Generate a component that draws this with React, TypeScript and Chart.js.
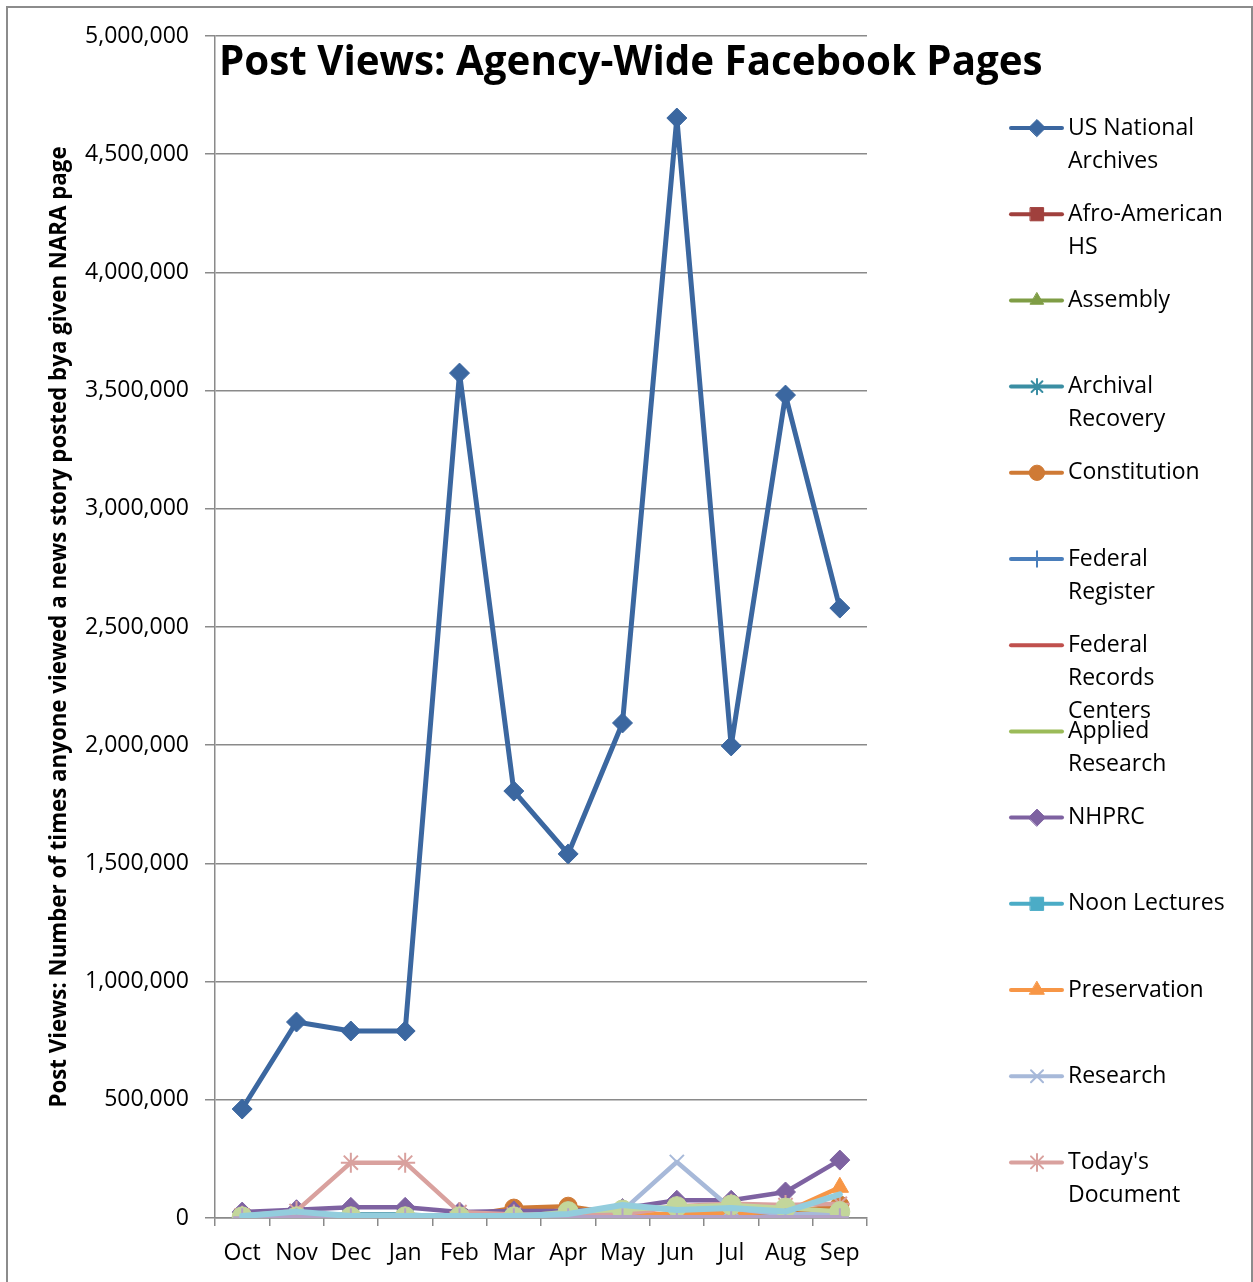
import React, { useEffect, useRef } from 'react';
import { Chart, registerables } from 'chart.js';
import { drawPoint } from 'chart.js/helpers';

Chart.register(...registerables);

// ---------- data ----------
const months = ['Oct', 'Nov', 'Dec', 'Jan', 'Feb', 'Mar', 'Apr', 'May', 'Jun', 'Jul', 'Aug', 'Sep'];

const usNationalArchives = [461000, 829000, 791000, 791000, 3574000, 1806000, 1540000, 2094000, 4653000, 1997000, 3481000, 2580000];
const afroAmericanHS = [5000, 8000, 6000, 6000, 5000, 6000, 8000, 6000, 5000, 8000, 6000, 20000];
const assembly = [2000, 2000, 2000, 2000, 2000, 2000, 2000, 2000, 2000, 2000, 2000, 2000];
const archivalRecovery = [4000, 6000, 15000, 15000, 4000, 4000, 4000, 4000, 3000, 3000, 3000, 3000];
const constitution = [5000, 8000, 6000, 6000, 5000, 42000, 50000, 15000, 10000, 15000, 20000, 55000];
const federalRegister = [3000, 4000, 3000, 3000, 3000, 3000, 3000, 5000, 8000, 30000, 8000, 10000];
const federalRecordsCenters = [1000, 1000, 1000, 1000, 1000, 1000, 1000, 1000, 1000, 1000, 1000, 1000];
const appliedResearch = [1000, 1000, 1000, 1000, 1000, 1000, 1000, 1000, 1000, 1000, 1000, 1000];
const nhprc = [25000, 35000, 45000, 45000, 25000, 30000, 30000, 40000, 75000, 75000, 110000, 245000];
const noonLectures = [0, 0, 0, 0, 0, 0, 0, 0, 0, 0, 0, 0];
const preservation = [5000, 10000, 5000, 5000, 5000, 10000, 10000, 10000, 20000, 20000, 25000, 130000];
const research = [5000, 10000, 5000, 5000, 5000, 5000, 5000, 30000, 237000, 40000, 15000, 20000];
const todaysDocument = [10000, 30000, 234000, 234000, 25000, 15000, 15000, 15000, 50000, 60000, 55000, 60000];
const extraCircles = [5000, 5000, 5000, 5000, 5000, 5000, 27000, 34000, 48000, 55000, 42000, 27000];
const extraPlus = [3000, 4000, 3000, 3000, 3000, 3000, 3000, 3000, 3000, 3000, 3000, 3000];
const extraLightBlue = [8000, 27000, 8000, 8000, 8000, 8000, 17000, 55000, 34000, 42000, 27000, 100000];

const yMax = 5000000;
const yStep = 500000;

const chartTitle = 'Post Views: Agency-Wide Facebook Pages';
const yAxisTitle = 'Post Views: Number of times anyone viewed a news story posted bya given NARA page';

const seriesNames = [
  'US National Archives', 'Afro-American HS', 'Assembly', 'Archival Recovery', 'Constitution',
  'Federal Register', 'Federal Records Centers', 'Applied Research', 'NHPRC', 'Noon Lectures',
  'Preservation', 'Research', "Today's Document", 'Series 14', 'Series 15', 'Series 16',
];
const legendLines = [
  ['US National', 'Archives'], ['Afro-American', 'HS'], ['Assembly'], ['Archival', 'Recovery'],
  ['Constitution'], ['Federal', 'Register'], ['Federal', 'Records', 'Centers'], ['Applied', 'Research'],
  ['NHPRC'], ['Noon Lectures'], ['Preservation'], ['Research'], ["Today's", 'Document'],
];
const seriesData = [
  usNationalArchives, afroAmericanHS, assembly, archivalRecovery, constitution, federalRegister,
  federalRecordsCenters, appliedResearch, nhprc, noonLectures, preservation, research, todaysDocument,
  extraCircles, extraPlus, extraLightBlue,
];

// ---------- styles ----------
type Style = { color: string; point: any; radius: number; width: number; pbw: number };
const seriesStyles: Style[] = [
  { color: '#3B67A0', point: 'rectRot', radius: 10, width: 5, pbw: 1 },
  { color: '#A0403D', point: 'rect', radius: 11, width: 4.5, pbw: 1 },
  { color: '#7F9D45', point: 'triangle', radius: 9, width: 4.5, pbw: 1 },
  { color: '#3A8EA3', point: 'star', radius: 9, width: 4.5, pbw: 2 },
  { color: '#CF7A35', point: 'circle', radius: 9, width: 4.5, pbw: 1 },
  { color: '#4A7EBB', point: 'cross', radius: 9, width: 4.5, pbw: 2 },
  { color: '#C0504D', point: false, radius: 0, width: 4.5, pbw: 1 },
  { color: '#9BBB59', point: false, radius: 0, width: 4.5, pbw: 1 },
  { color: '#7E62A1', point: 'rectRot', radius: 10, width: 4.5, pbw: 1 },
  { color: '#4BACC6', point: 'rect', radius: 11, width: 4.5, pbw: 1 },
  { color: '#F79646', point: 'triangle', radius: 10, width: 4.5, pbw: 1 },
  { color: '#A7B9D9', point: 'crossRot', radius: 10, width: 4.5, pbw: 2 },
  { color: '#D9A19E', point: 'star', radius: 10, width: 4.5, pbw: 2 },
  { color: '#C3D69B', point: 'circle', radius: 10, width: 4.5, pbw: 1 },
  { color: '#B3A2C7', point: 'cross', radius: 9, width: 4.5, pbw: 2 },
  { color: '#93CDDD', point: false, radius: 0, width: 6, pbw: 1 },
];

const FONT = '"Open Sans", "Noto Sans", sans-serif';

const decorPlugin = {
  id: 'decor',
  afterDraw(chart: any) {
    const ctx = chart.ctx;
    const area = chart.chartArea;
    ctx.save();
    // outer border
    ctx.strokeStyle = '#8c8c8c';
    ctx.lineWidth = 2;
    ctx.beginPath();
    ctx.moveTo(7, chart.height + 2);
    ctx.lineTo(7, 7);
    ctx.lineTo(1252, 7);
    ctx.lineTo(1252, chart.height + 2);
    ctx.stroke();

    // title
    ctx.fillStyle = '#000';
    ctx.font = `bold 40.3px ${FONT}`;
    ctx.textBaseline = 'alphabetic';
    ctx.textAlign = 'left';
    ctx.fillText(chartTitle, area.left + 4, 75);

    // legend
    ctx.font = `23px ${FONT}`;
    ctx.textBaseline = 'middle';
    legendLines.forEach((lines, i) => {
      const st = seriesStyles[i];
      const y = 128 + i * 86.2;
      ctx.strokeStyle = st.color;
      ctx.lineWidth = 4;
      ctx.lineCap = 'round';
      ctx.beginPath();
      ctx.moveTo(1011, y);
      ctx.lineTo(1062, y);
      ctx.stroke();
      if (st.point) {
        ctx.fillStyle = st.color;
        ctx.strokeStyle = st.color;
        ctx.lineWidth = st.pbw;
        drawPoint(ctx, { pointStyle: st.point, radius: st.radius * 0.85, rotation: 0, borderWidth: st.pbw }, 1037, y);
      }
      ctx.fillStyle = '#000';
      lines.forEach((t, j) => ctx.fillText(t, 1068, y + j * 33));
    });
    ctx.restore();
  },
};

export default function App() {
  const canvasRef = useRef<HTMLCanvasElement | null>(null);

  useEffect(() => {
    document.body.style.margin = '0';
    const canvas = canvasRef.current!;
    const datasets = seriesData.map((data, i) => {
      const st = seriesStyles[i];
      return {
        label: seriesNames[i],
        data,
        borderColor: st.color,
        backgroundColor: st.color,
        borderWidth: st.width,
        borderJoinStyle: 'round',
        borderCapStyle: 'round',
        pointStyle: st.point,
        pointRadius: st.radius,
        pointBorderWidth: st.pbw,
        pointBackgroundColor: st.color,
        pointBorderColor: st.color,
        tension: 0,
        order: seriesData.length - i,
      };
    });
    const chart = new Chart(canvas, {
      type: 'line',
      data: { labels: months, datasets },
      options: {
        animation: false,
        responsive: false,
        devicePixelRatio: 1,
        layout: { padding: { left: 0, right: 386, top: 36, bottom: 0 } },
        plugins: { legend: { display: false }, tooltip: { enabled: false }, title: { display: false } },
        scales: {
          x: {
            offset: true,
            grid: { offset: true, drawOnChartArea: false, drawTicks: true, tickLength: 8, color: '#8a8a8a', lineWidth: 1.5 },
            border: { display: true, color: '#8a8a8a', width: 1.5 },
            ticks: { color: '#000', font: { family: FONT, size: 23 }, padding: 14, maxRotation: 0, autoSkip: false },
            afterFit: (s: any) => { s.height = 64; },
          },
          y: {
            min: 0,
            max: yMax,
            ticks: {
              stepSize: yStep,
              color: '#000',
              font: { family: FONT, size: 23 },
              padding: 16,
              callback: (v: any) => Number(v).toLocaleString('en-US'),
            },
            grid: { color: '#8a8a8a', lineWidth: 1.5, tickLength: 10, drawTicks: true },
            border: { display: true, color: '#8a8a8a', width: 1.5 },
            title: {
              display: true,
              text: yAxisTitle,
              color: '#000',
              font: { family: FONT, size: 22.3, weight: 'bold' },
              padding: { top: 46, bottom: 0 },
            },
            afterFit: (s: any) => { s.width = 215; },
          },
        },
      },
      plugins: [decorPlugin],
    } as any);
    return () => chart.destroy();
  }, []);

  return <canvas ref={canvasRef} width={1253} height={1282} style={{ display: 'block' }} />;
}
